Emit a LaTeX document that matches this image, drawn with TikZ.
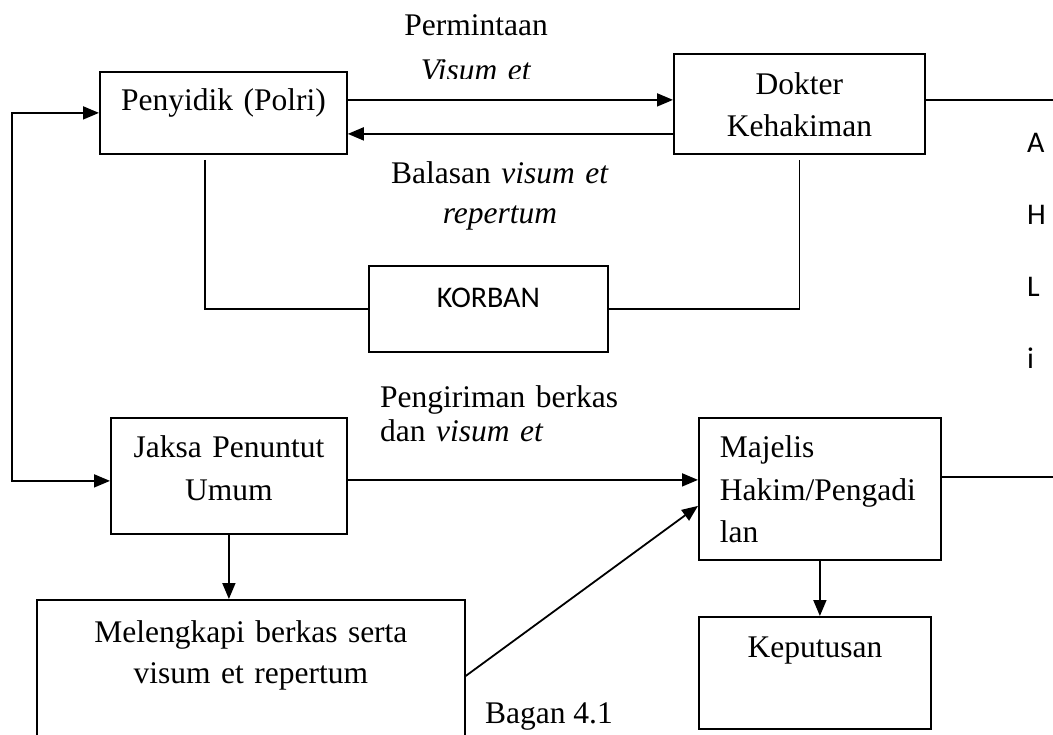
\documentclass[tikz,border=0pt]{standalone}
\usepackage{fontspec}
\setmainfont{Liberation Serif}
\newfontfamily\calfont{Carlito}
\usetikzlibrary{arrows.meta,positioning,calc}
\tikzset{
  box/.style={rectangle, draw, line width=1.8pt, inner xsep=0pt, inner ysep=0pt,
              anchor=north west, align=center, font=\fontsize{31.5}{42}\selectfont},
  lbl/.style={inner sep=0pt, font=\fontsize{31.5}{42}\selectfont},
  ln/.style={line width=1.8pt},
  ar/.style={ln, -{Triangle[length=16pt,width=13pt]}},
  ar2/.style={ln, {Triangle[length=16pt,width=13pt]}-{Triangle[length=16pt,width=13pt]}},
}
\begin{document}
\begin{tikzpicture}[x=1pt, y=-1pt]
\useasboundingbox (0,0) rectangle (1053,735);
\clip (0,0) rectangle (1053,735);
% boxes
\node[box, text width=247pt, text height=39pt, text depth=43pt] (pen) at (99,71) {Penyidik (Polri)};
\node[box, text width=251pt, text height=41pt, text depth=59pt] (dok) at (673,53) {Dokter\\Kehakiman};
\node[box, text width=239pt, text height=42pt, text depth=44pt,
      font=\calfont\fontsize{30}{36}\selectfont] (kor) at (368,265) {KORBAN};
\node[box, text width=236pt, text height=40pt, text depth=76pt,
      font=\fontsize{31.5}{43}\selectfont] (jak) at (110,417) {Jaksa Penuntut\\Umum};
\node[box, text width=200pt, inner xsep=21pt, align=left, text height=40pt, text depth=102pt,
      font=\fontsize{31.5}{42.5}\selectfont] (maj) at (698,417) {Majelis\\Hakim/Pengadi\\lan};
\node[box, text width=232pt, text height=41pt, text depth=71pt] (kep) at (698,616) {Keputusan};
\node[box, text width=428pt, text height=43pt, text depth=127pt,
      font=\fontsize{31.5}{41}\selectfont] (mel) at (36,599) {Melengkapi berkas serta\\visum et repertum};
% labels
\begin{scope}
  \clip (380,0) rectangle (600,79);
  \node[lbl, text width=200pt, align=center, anchor=base,
        font=\fontsize{31.5}{45}\selectfont] (minta) at (476,36) {Permintaan\\\textit{Visum et}};
\end{scope}
\node[lbl, text width=240pt, align=center, anchor=base,
      font=\fontsize{31.5}{40}\selectfont] (balas) at (500,184) {Balasan \textit{visum et}\\\textit{repertum}};
\node[lbl, text width=250pt, align=left, anchor=base west,
      font=\fontsize{31.5}{35}\selectfont] (kirim) at (380,407) {Pengiriman berkas\\dan \textit{visum et}};
\node[lbl, anchor=base] (bagan) at (549,723) {Bagan 4.1};
\node[lbl, text width=20pt, align=left, anchor=base west,
      font=\calfont\fontsize{30}{72}\selectfont] (ahli) at (1027,153) {A\\H\\L\\i};
% connectors
\coordinate (lft) at (12,0);
\coordinate (rgt) at (1053,0);
\draw[ar] ([yshift=13pt]pen.east) -- ([yshift=13pt]pen.east -| dok.west);
\draw[ar] ([yshift=-21pt]pen.east -| dok.west) -- ([yshift=-21pt]pen.east);
\draw[ar2] (pen.west) -- (pen.west -| lft) |- ([yshift=-5pt]jak.west);
\draw[ln] ([shift={(-18.5,5)}]pen.south) |- (kor.west);
\draw[ln] (kor.east) -| ([yshift=-5pt]dok.south);
\draw[ln] ([yshift=4pt]dok.east) -- ([yshift=4pt]dok.east -| rgt);
\draw[ln] ([yshift=12pt]maj.east) -- ([yshift=12pt]maj.east -| rgt);
\draw[ar] ([yshift=-4pt]jak.east) -- ([yshift=-4pt]jak.east -| maj.west);
\draw[ar] (jak.south) -- (jak.south |- mel.north);
\draw[ar] ([yshift=9pt]mel.east) -- ([yshift=-17pt]maj.west);
\draw[ar] (maj.south) -- (maj.south |- kep.north);
\end{tikzpicture}
\end{document}
